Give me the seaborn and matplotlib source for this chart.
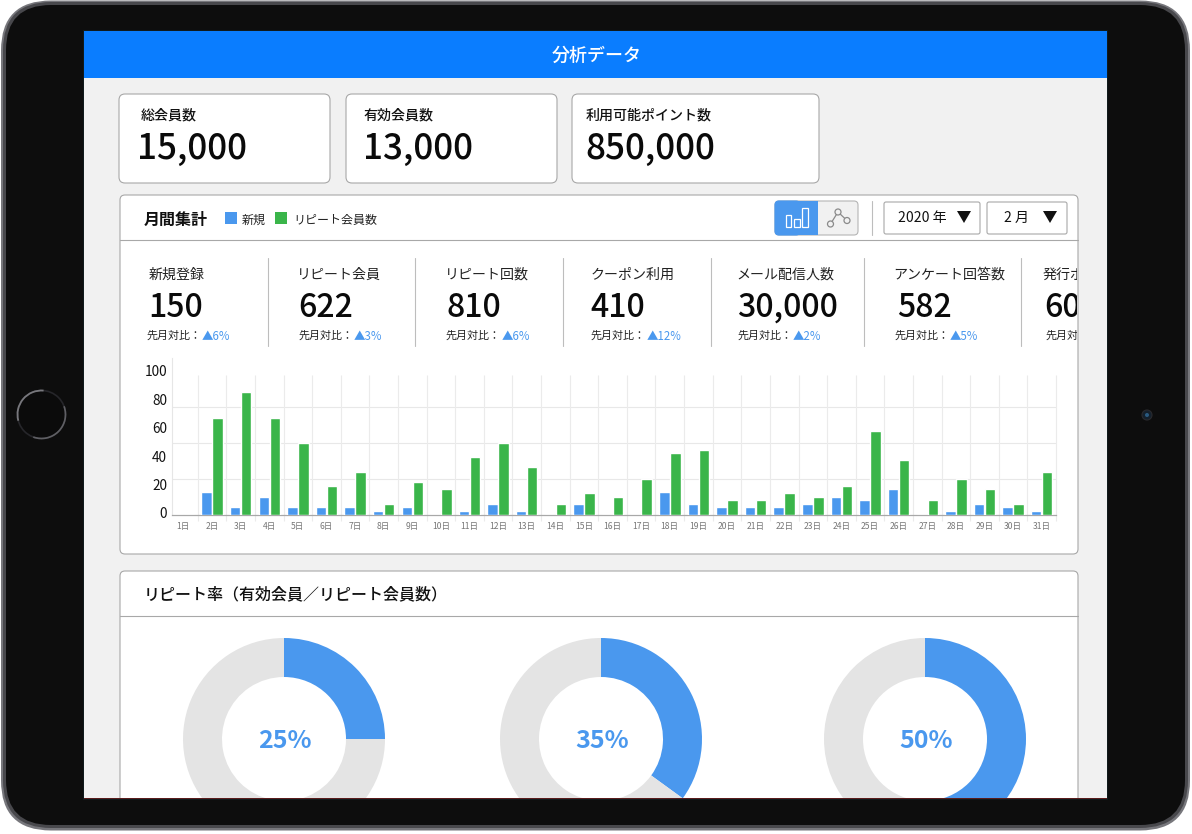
import matplotlib
matplotlib.use("Agg")
import matplotlib.pyplot as plt
import matplotlib.transforms as mtrans
from matplotlib.patches import FancyBboxPatch, Rectangle, Circle, Polygon, Arc
import pandas as pd
import seaborn as sns

days = [f"{d}日" for d in range(1, 32)]
new_members = [0, 16, 5.5, 13, 5.5, 5.5, 5.5, 2.5, 5.5, 0, 2.5, 8, 2.5, 0, 8, 0,
               0, 16, 8, 5.5, 5.5, 5.5, 8, 13, 10.5, 18, 0, 2.5, 8, 5.5, 2.5]
repeat_members = [0, 68.5, 86.5, 68.5, 51, 20.5, 30.5, 8, 23, 18, 41, 51, 33.5, 8, 15.5, 13,
                  25.5, 43.5, 45.5, 10.5, 10.5, 15.5, 13, 20.5, 59, 38.5, 10.5, 25.5, 18, 8, 30.5]
y_ticks = [0, 20, 40, 60, 80, 100]
card_labels = ["総会員数", "有効会員数", "利用可能ポイント数"]
card_values = ["15,000", "13,000", "850,000"]
metric_labels = ["新規登録", "リピート会員", "リピート回数", "クーポン利用", "メール配信人数", "アンケート回答数", "発行ポイント数"]
metric_values = ["150", "622", "810", "410", "30,000", "582", "600"]
metric_deltas = ["▲6%", "▲3%", "▲6%", "▲12%", "▲2%", "▲5%", "▲6%"]
donut_values = [25, 35, 50]

BLUE = "#4a98ee"
GREEN = "#3ab54a"
EDGE = "#a8a8a8"
W, H = 1192, 834

sns.set_style("white")
plt.rcParams["font.family"] = ["Noto Sans CJK JP", "DejaVu Sans"]
fig = plt.figure(figsize=(W / 100, H / 100), dpi=100, facecolor="white")


def px_axes(x0, y0, x1, y1, z):
    return fig.add_axes([x0 / W, 1 - y1 / H, (x1 - x0) / W, (y1 - y0) / H], zorder=z)


ui = px_axes(0, 0, W, H, 0)
ui.set_xlim(0, W)
ui.set_ylim(H, 0)
ui.axis("off")


def rbox(x0, y0, x1, y1, r, fc, ec="none", lw=0.8, z=1, ax=ui):
    p = FancyBboxPatch((x0, y0), x1 - x0, y1 - y0, boxstyle=f"round,pad=0,rounding_size={r}",
                       fc=fc, ec=ec, lw=lw, zorder=z)
    ax.add_patch(p)
    return p


def rect(x0, y0, x1, y1, fc, ec="none", lw=0.8, z=1):
    p = Rectangle((x0, y0), x1 - x0, y1 - y0, fc=fc, ec=ec, lw=lw, zorder=z)
    ui.add_patch(p)
    return p


def txt(x, y, s, px, color="#111111", weight="normal", ha="left", va="center", z=5, **kw):
    return ui.text(x, y, s, fontsize=px * 0.72, color=color, fontweight=weight, ha=ha, va=va, zorder=z, **kw)


# device body
rbox(1, 0.5, 1190, 830.5, 50, "#77777c", z=0)
rbox(3, 2, 1188, 828, 48, "#48484c", z=0.1)
rbox(6, 5, 1185, 825, 45, "#0d0d0d", z=0.2)
ui.add_patch(Circle((41.5, 414.5), 24, fc="#0b0b0b", ec="#26262a", lw=1.2, zorder=0.5))
ui.add_patch(Arc((41.5, 414.5), 48, 48, theta1=165, theta2=275, color="#77777c", lw=1.3, zorder=0.6))
ui.add_patch(Arc((41.5, 414.5), 48, 48, theta1=-20, theta2=110, color="#5f5f64", lw=1.2, zorder=0.6))
ui.add_patch(Circle((1147, 415), 5, fc="#14202c", ec="#2a2a2e", lw=0.8, zorder=0.5))
ui.add_patch(Circle((1147, 415), 2, fc="#2a5a80", ec="none", zorder=0.6))

# screen
rect(83, 30, 1108, 799.5, "#101a1c", z=0.9)
rect(84, 31, 1107, 798, "#f1f1f1", z=1)
rect(84, 797.6, 1107, 798.6, "#5a1c1c", z=4)
rect(84, 31, 1107, 78, "#0a7dff", z=1.1)
txt(597, 56, "分析データ", 18, color="white", weight="medium", ha="center")

# summary cards
card_boxes = [(119, 330), (346, 557), (572, 819)]
card_label_x = [141, 364, 586]
card_value_x = [137, 363, 585]
for (a, b), lab, val, lx, vx in zip(card_boxes, card_labels, card_values, card_label_x, card_value_x):
    rbox(a, 94, b, 183, 6, "white", EDGE, z=2)
    txt(lx, 115, lab, 14, weight="medium")
    txt(vx, 149, val, 35, weight="medium", color="#0a0a0a")

# monthly panel
rbox(120, 195, 1078, 554, 5, "white", EDGE, z=2)
ui.plot([120, 1078], [240, 240], color=EDGE, lw=0.8, zorder=3)
txt(144, 220, "月間集計", 16, weight="bold")
rect(225, 212, 237, 224, BLUE, z=3)
txt(242, 220, "新規", 12, color="#222222")
rect(275, 212, 287, 224, GREEN, z=3)
txt(293, 220, "リピート会員数", 12, color="#222222")

# toggle
rbox(775, 201, 858, 235, 4, "#f1f1f1", "#b5b5b5", z=3)
rbox(775, 201, 800, 235, 4, BLUE, BLUE, z=3.1)
rect(790, 201, 818, 235, BLUE, z=3.1)
for x0, x1, top in [(786, 791, 215), (794, 800, 219), (802, 808, 208)]:
    ui.add_patch(Rectangle((x0, top), x1 - x0, 227 - top, fc="none", ec="white", lw=0.9, zorder=4))
node_x = [830.5, 838, 847]
node_y = [224, 212, 220.5]
ui.plot(node_x, node_y, color="#8a8a8a", lw=0.9, zorder=4)
for nx, ny in zip(node_x, node_y):
    ui.add_patch(Circle((nx, ny), 3, fc="#f1f1f1", ec="#8a8a8a", lw=0.9, zorder=4.1))
ui.plot([872, 872], [201, 235], color="#bdbdbd", lw=0.8, zorder=3)

# selects
rbox(884, 202, 980, 234, 2, "white", EDGE, z=3)
txt(922, 218, "2020 年", 14, ha="center")
rbox(987, 202, 1067, 234, 2, "white", EDGE, z=3)
txt(1017, 218, "2 月", 14, ha="center")
for cx in (964, 1050):
    ui.add_patch(Polygon([(cx - 7, 211), (cx + 7, 211), (cx, 223)], fc="#111111", ec="none", zorder=4))

# metrics row
panel_clip = Rectangle((120, 241), 957, 312, transform=ui.transData)
label_x = [149, 297, 445, 591, 736, 893, 1043]
value_x = [148, 298, 446, 590, 737, 897, 1044]
sub_x = [147, 299, 446, 591, 738, 895, 1046]
delta_x = [202, 354, 502, 647, 793, 950, 1101]
for i in range(7):
    for t in (txt(label_x[i], 275, metric_labels[i], 14, color="#222222"),
              txt(value_x[i], 308, metric_values[i], 32, weight="medium", color="#0a0a0a"),
              txt(sub_x[i], 336, "先月対比：", 11, color="#222222"),
              txt(delta_x[i], 336, metric_deltas[i], 11.5, color=BLUE)):
        t.set_clip_on(True)
        t.set_clip_path(panel_clip)
for x in [268, 415, 563, 711, 864, 1021]:
    ui.plot([x, x], [258, 346], color="#bdbdbd", lw=0.8, zorder=3)

# bar chart
df = pd.DataFrame({
    "day": days * 2,
    "value": new_members + repeat_members,
    "series": ["新規"] * 31 + ["リピート会員数"] * 31,
})
chart = px_axes(172, 358, 1056, 515, 3)
chart.patch.set_alpha(0)
sns.barplot(data=df, x="day", y="value", hue="series", palette=[BLUE, GREEN], order=days,
            width=0.77, gap=0.05, saturation=1, legend=False, ax=chart, zorder=3)
chart.set_xlim(-0.4, 30.5)
chart.set_ylim(0, 157 / 1.42)
chart.set_xlabel("")
chart.set_ylabel("")
chart.set_yticks(y_ticks)
chart.tick_params(axis="y", length=0, pad=3.5, labelsize=9.8, labelcolor="#111111")
chart.tick_params(axis="x", length=0, pad=5, labelsize=6.2, labelcolor="#777777")
for lab in chart.get_yticklabels():
    lab.set_transform(lab.get_transform() + mtrans.ScaledTranslation(0, 2 / 100, fig.dpi_scale_trans))
for v in (25.35, 50.7, 76.05):
    chart.axhline(v, color="#e8e8e8", lw=0.8, zorder=1)
for k in range(31):
    chart.vlines(k + 0.5, -6 / 1.42, 98.6, color="#ebebeb", lw=0.8, zorder=1, clip_on=False)
sns.despine(ax=chart, top=True, right=True)
chart.spines["left"].set_color("#e6e6e6")
chart.spines["bottom"].set_color(EDGE)
chart.spines["bottom"].set_linewidth(0.9)

# repeat-rate panel
panel2 = rbox(120, 571, 1078, 871, 5, "white", EDGE, z=2)
panel2.set_clip_path(Rectangle((84, 31), 1023, 767, transform=ui.transData))
ui.plot([120, 1078], [616, 616], color=EDGE, lw=0.8, zorder=3)
txt(144, 595, "リピート率（有効会員／リピート会員数）", 16, weight="medium")

donuts = px_axes(121, 617, 1077, 797.5, 3)
donuts.patch.set_alpha(0)
centers = [284, 601, 925]
for val, cx in zip(donut_values, centers):
    wedges, _ = donuts.pie([val, 100 - val], colors=[BLUE, "#e4e4e4"], startangle=90, counterclock=False,
                           center=(cx, 834 - 739), radius=101, frame=True,
                           wedgeprops={"width": 39, "linewidth": 0})
    for w in wedges:
        w.set_clip_on(True)
        w.set_clip_path(donuts.patch)
donuts.set_aspect("auto")
donuts.set_xlim(121, 1077)
donuts.set_ylim(834 - 797.5, 834 - 617)
donuts.axis("off")
for val, cx in zip(donut_values, centers):
    donuts.text(cx + 1, 834 - 741, f"{val}%", fontsize=25 * 0.72, color=BLUE, fontweight="bold",
                ha="center", va="center", zorder=10)

fig.savefig("out.png", dpi=100, facecolor="white")
